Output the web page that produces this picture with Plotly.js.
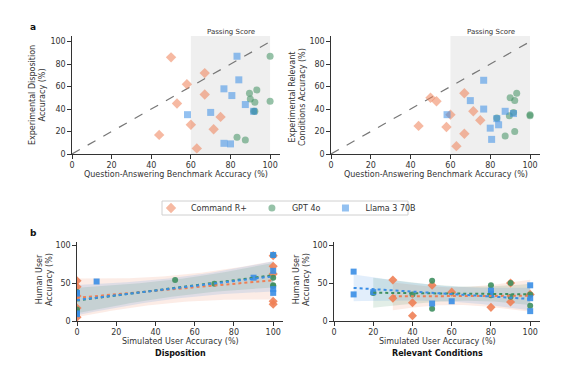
<!DOCTYPE html>
<html>
<head>
<meta charset="utf-8">
<script src="https://cdn.plot.ly/plotly-3.0.1.min.js"></script>
<style>html,body{margin:0;padding:0;background:#fff}#chart{width:575px;height:366px}</style>
</head>
<body>
<div id="chart"></div>
<script>
// ---------- data ----------
const models = ["Command R+", "GPT 4o", "Llama 3 70B"];

// Panel a: benchmark accuracy vs experimental accuracy
const cmdBench = [44, 50, 53, 58, 60, 63, 67, 67, 71.5, 75];
const cmdDisp  = [17, 86, 45, 62, 26, 5, 72, 53, 22, 33];
const cmdRel   = [25, 50, 47, 24, 35, 7, 54, 18, 38, 30];

const gptBench = [83.3, 87.5, 89.6, 90, 91.7, 92.3, 92.3, 93.3, 100, 100];
const gptDisp  = [15, 12.5, 54, 49, 38, 46, 38, 57, 87, 47];
const gptRel   = [32, 16, 34, 50, 37, 47.5, 20, 54, 35, 34];

const llamaBench = [58.3, 70, 76.7, 76.7, 80, 80.7, 83.3, 84.2, 87.5, 91.7];
const llamaDisp  = [35, 37, 58, 9.5, 9, 52, 87, 66, 44, 38];
const llamaRel   = [35, 47.5, 65.6, 40, 23, 13, 31.5, 26, 38, 36];

const passingRange = [60, 100];
const diagonal = [0, 100];

// Panel b: simulated vs human user accuracy
const cmdSimDisp = [0, 0, 0, 0, 0, 100, 100, 100, 100, 100];
const cmdHumDisp = [53, 45, 5, 17, 33, 86, 72, 62, 26, 22];
const gptSimDisp = [0, 0, 0, 0, 50, 70, 100, 100, 100, 100];
const gptHumDisp = [38, 38, 15, 12, 54, 49, 87, 57, 47, 46];
const llamaSimDisp = [0, 0, 0, 0, 10, 90, 100, 100, 100, 100];
const llamaHumDisp = [37, 35, 10, 9, 52, 57, 87, 66, 42, 37];

const cmdSimRel = [30, 30, 40, 40, 50, 60, 80, 90, 90, 100];
const cmdHumRel = [54, 30, 24, 7, 47, 38, 18, 25, 50, 35];
const gptSimRel = [20, 40, 50, 50, 80, 80, 90, 90, 100, 100];
const gptHumRel = [37, 35, 53, 16, 47, 34, 50, 32, 35, 20];
const llamaSimRel = [10, 10, 20, 50, 60, 80, 80, 100, 100, 100];
const llamaHumRel = [65, 35, 38, 23, 26, 40, 36, 47, 30, 13];

// ---------- styles ----------
const colors = ["#EE7F55", "#3F8F60", "#3A8EE6"];
const symbols = ["diamond", "circle", "square"];
const sizes = [8, 7, 7];
const FONT = "DejaVu Sans, sans-serif";

const traces = [];

function topScatter(xs, ys, i, xa, ya, showleg) {
  return {
    type: "scatter", mode: "markers", x: xs, y: ys, xaxis: xa, yaxis: ya,
    name: models[i], legendgroup: models[i], showlegend: showleg,
    marker: {symbol: symbols[i], size: sizes[i], color: colors[i], opacity: 0.55, line: {width: 0}},
    hoverinfo: "skip"
  };
}

// regression with 95% CI band
function tval(df) {
  const t = {1:12.706,2:4.303,3:3.182,4:2.776,5:2.571,6:2.447,7:2.365,8:2.306,9:2.262,10:2.228};
  return t[df] || 2.0;
}
function hexA(h, a) {
  const r = parseInt(h.slice(1,3),16), g = parseInt(h.slice(3,5),16), b = parseInt(h.slice(5,7),16);
  return `rgba(${r},${g},${b},${a})`;
}
function regTraces(xs, ys, i, xa, ya) {
  const n = xs.length;
  const mx = xs.reduce((a,b)=>a+b,0)/n, my = ys.reduce((a,b)=>a+b,0)/n;
  let sxx = 0, sxy = 0;
  for (let k = 0; k < n; k++) { sxx += (xs[k]-mx)**2; sxy += (xs[k]-mx)*(ys[k]-my); }
  const b = sxy/sxx, a = my - b*mx;
  let sse = 0;
  for (let k = 0; k < n; k++) sse += (ys[k] - (a + b*xs[k]))**2;
  const s = Math.sqrt(sse/(n-2));
  const t = tval(n-2);
  const lo = Math.min(...xs), hi = Math.max(...xs);
  const gx = [], gy = [], up = [], dn = [];
  const N = 60;
  for (let j = 0; j <= N; j++) {
    const x = lo + (hi-lo)*j/N;
    const yh = a + b*x;
    const se = s*Math.sqrt(1/n + (x-mx)**2/sxx);
    gx.push(x); gy.push(yh); up.push(yh + t*se); dn.push(yh - t*se);
  }
  const band = {
    type: "scatter", mode: "lines", x: gx.concat(gx.slice().reverse()),
    y: up.concat(dn.slice().reverse()), fill: "toself", fillcolor: hexA(colors[i], 0.15),
    line: {width: 0}, xaxis: xa, yaxis: ya, showlegend: false, hoverinfo: "skip"
  };
  const line = {
    type: "scatter", mode: "lines", x: gx, y: gy, xaxis: xa, yaxis: ya,
    line: {color: colors[i], width: 2, dash: "dot"}, showlegend: false, hoverinfo: "skip"
  };
  return [band, line];
}
function botScatter(xs, ys, i, xa, ya) {
  return {
    type: "scatter", mode: "markers", x: xs, y: ys, xaxis: xa, yaxis: ya,
    showlegend: false, legendgroup: models[i],
    marker: {symbol: symbols[i], size: sizes[i]-1, color: colors[i], opacity: 0.9, line: {width: 0}},
    hoverinfo: "skip"
  };
}

// diagonals
[["x","y"],["x2","y2"]].forEach(([xa,ya]) => {
  traces.push({type:"scatter", mode:"lines", x: diagonal, y: diagonal, xaxis: xa, yaxis: ya,
    line:{color:"#777", width:1.2, dash:"dash"}, showlegend:false, hoverinfo:"skip"});
});

const benches = [cmdBench, gptBench, llamaBench];
const disps = [cmdDisp, gptDisp, llamaDisp];
const rels = [cmdRel, gptRel, llamaRel];
for (let i = 0; i < 3; i++) {
  traces.push(topScatter(benches[i], disps[i], i, "x", "y", true));
  traces.push(topScatter(benches[i], rels[i], i, "x2", "y2", false));
}

const simD = [cmdSimDisp, gptSimDisp, llamaSimDisp], humD = [cmdHumDisp, gptHumDisp, llamaHumDisp];
const simR = [cmdSimRel, gptSimRel, llamaSimRel], humR = [cmdHumRel, gptHumRel, llamaHumRel];
const bands = [], lines = [], pts = [];
for (let i = 0; i < 3; i++) {
  const [b1, l1] = regTraces(simD[i], humD[i], i, "x3", "y3");
  const [b2, l2] = regTraces(simR[i], humR[i], i, "x4", "y4");
  bands.push(b1, b2); lines.push(l1, l2);
  pts.push(botScatter(simD[i], humD[i], i, "x3", "y3"), botScatter(simR[i], humR[i], i, "x4", "y4"));
}
traces.push(...bands, ...pts, ...lines);

// ---------- layout ----------
const W = 575, H = 366;
const px = v => v / W, py = v => 1 - v / H;
function ax(dom, range, dtick, anchor) {
  return {domain: dom, range: range, dtick: dtick, tick0: 0, showgrid: false, zeroline: false,
    showline: true, linecolor: "#333", linewidth: 1.2, ticks: "outside", ticklen: 3.5,
    tickwidth: 1, tickcolor: "#333", tickfont: {size: 8, color: "#333", family: FONT},
    anchor: anchor, fixedrange: true};
}
function ann(text, x, y, opts) {
  return Object.assign({text: text, x: px(x), y: py(y), xref: "paper", yref: "paper",
    xanchor: "center", yanchor: "middle", showarrow: false, font: {size: 8, color: "#333", family: FONT}}, opts || {});
}
const topY = [py(154), py(36)], botY = [py(321), py(242)];
const layout = {
  width: W, height: H, margin: {l:0, r:0, t:0, b:0}, paper_bgcolor: "#fff", plot_bgcolor: "rgba(0,0,0,0)",
  font: {family: FONT, color: "#333", size: 8},
  xaxis: ax([px(72), px(280)], [0, 105], 20, "y"),
  yaxis: ax(topY, [0, 105], 20, "x"),
  xaxis2: ax([px(331), px(540)], [0, 105], 20, "y2"),
  yaxis2: ax(topY, [0, 105], 20, "x2"),
  xaxis3: ax([px(77), px(283)], [0, 105], 20, "y3"),
  yaxis3: ax(botY, [0, 104], 50, "x3"),
  xaxis4: ax([px(334), px(540)], [0, 105], 20, "y4"),
  yaxis4: ax(botY, [0, 104], 50, "x4"),
  showlegend: true,
  legend: {orientation: "h", x: px(151), xanchor: "left", y: py(208), yanchor: "middle",
    borderwidth: 0, font: {size: 8, color: "#333", family: FONT}, bgcolor: "rgba(0,0,0,0)"},
  shapes: [
    {type: "rect", xref: "x", yref: "y", x0: passingRange[0], x1: passingRange[1], y0: 0, y1: 105,
      fillcolor: "#efefef", line: {width: 0}, layer: "below"},
    {type: "rect", xref: "x2", yref: "y2", x0: passingRange[0], x1: passingRange[1], y0: 0, y1: 105,
      fillcolor: "#efefef", line: {width: 0}, layer: "below"},
    {type: "rect", xref: "paper", yref: "paper", x0: px(162), x1: px(408), y0: py(215), y1: py(201),
      fillcolor: "rgba(0,0,0,0)", line: {color: "#d0d0d0", width: 1}, layer: "below"}
  ],
  annotations: [
    ann("<b>a</b>", 33, 27, {font: {size: 9, color: "#111", family: FONT}}),
    ann("<b>b</b>", 33, 233, {font: {size: 9, color: "#111", family: FONT}}),
    ann("Passing Score", 231, 32, {font: {size: 7, color: "#333", family: FONT}}),
    ann("Passing Score", 491, 32, {font: {size: 7, color: "#333", family: FONT}}),
    ann("Question-Answering Benchmark Accuracy (%)", 176, 174),
    ann("Question-Answering Benchmark Accuracy (%)", 436, 174),
    ann("Experimental Disposition<br>Accuracy (%)", 38, 95, {textangle: -90}),
    ann("Experimental Relevant<br>Conditions Accuracy (%)", 298, 97, {textangle: -90}),
    ann("Simulated User Accuracy (%)", 180, 341),
    ann("Simulated User Accuracy (%)", 437, 341),
    ann("<b>Disposition</b>", 180, 353, {font: {size: 8, color: "#111", family: FONT}}),
    ann("<b>Relevant Conditions</b>", 437, 353, {font: {size: 8, color: "#111", family: FONT}}),
    ann("Human User<br>Accuracy (%)", 44, 280, {textangle: -90}),
    ann("Human User<br>Accuracy (%)", 301, 280, {textangle: -90})
  ]
};

Plotly.newPlot("chart", traces, layout, {displayModeBar: false, staticPlot: true});
</script>
</body>
</html>
